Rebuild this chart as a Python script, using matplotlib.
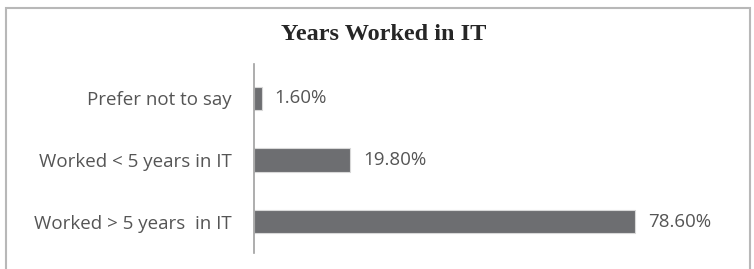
import matplotlib
matplotlib.use("Agg")
import matplotlib.pyplot as plt
from matplotlib.patches import Rectangle

categories = ["Worked > 5 years  in IT", "Worked < 5 years in IT", "Prefer not to say"]
values = [78.6, 19.8, 1.6]
value_labels = ["78.60%", "19.80%", "1.60%"]
title = "Years Worked in IT"

fig = plt.figure(figsize=(7.54, 2.69), dpi=100)
fig.patch.set_facecolor("white")
# chart-area border (bottom edge lies just below the image)
fig.patches.append(Rectangle((6/754, -5/269), 744/754, (269 - 8 + 5)/269, transform=fig.transFigure,
                             fill=False, edgecolor="#b8b8b8", linewidth=1.5))

ax = fig.add_axes([254/754, 1 - 253/269, 485/754, 189/269])
ypos = list(range(len(categories)))
bars = ax.barh(ypos, values, height=0.38, color="#6d6e71", edgecolor="#d8d8d8", linewidth=0.8)
ax.set_xlim(0, 100)
ax.set_ylim(-0.51, 2.56)
ax.set_yticks(ypos)
ax.set_yticklabels(categories, fontsize=13.5, color="#555555", family="Open Sans")
ax.tick_params(axis="y", length=0, pad=16)
ax.set_xticks([])
for s in ["top", "right", "bottom"]:
    ax.spines[s].set_visible(False)
ax.spines["left"].set_color("#a0a0a0")
ax.spines["left"].set_linewidth(1.2)
ax.set_facecolor("none")

for b, lab in zip(bars, value_labels):
    ax.annotate(lab, (b.get_width(), b.get_y() + b.get_height() / 2),
                xytext=(13, 0), textcoords="offset pixels",
                va="center", ha="left", fontsize=13.5, color="#555555", family="Open Sans")

fig.text(384/754, 1 - 35/269, title, ha="center", va="center", fontsize=17.5,
         fontweight="bold", family="Liberation Serif", color="#262626")

fig.savefig("out.png", dpi=100)
